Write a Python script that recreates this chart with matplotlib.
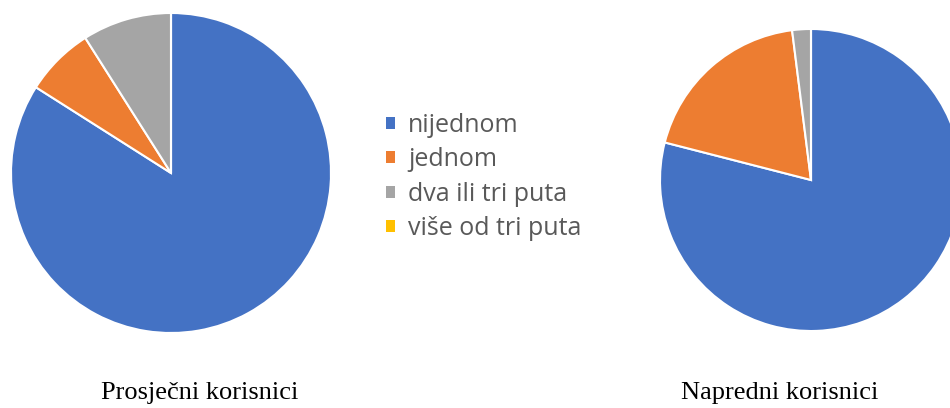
import matplotlib.pyplot as plt

# kategorije i udjeli (%)
kategorije = ['nijednom', 'jednom', 'dva ili tri puta', 'više od tri puta']
prosjecni = [84, 7, 9, 0]
napredni = [79, 19, 2, 0]
boje = ['#4472C4', '#ED7D31', '#A5A5A5', '#FFC000']

W, H = 950, 408
fig = plt.figure(figsize=(W / 100, H / 100), dpi=100)


def dodaj_pie(cx, cy, r, vrijednosti):
    ax = fig.add_axes([(cx - r) / W, (H - cy - r) / H, 2 * r / W, 2 * r / H])
    wedges, _ = ax.pie(vrijednosti, colors=boje, startangle=90, counterclock=False,
                       radius=1, wedgeprops=dict(edgecolor='white', linewidth=1.5))
    ax.set_xlim(-1, 1)
    ax.set_ylim(-1, 1)
    for w in wedges:
        w.set_clip_on(False)
    return wedges


wedges = dodaj_pie(171, 173, 160, prosjecni)
dodaj_pie(811, 180, 151, napredni)

leg = fig.legend(wedges, kategorije, loc='center left', bbox_to_anchor=(363 / W, 1 - 177 / H),
                 frameon=False, prop={'family': 'Open Sans', 'size': 18},
                 handlelength=0.36, handleheight=0.36, handletextpad=0.55, labelspacing=0.37)
for t in leg.get_texts():
    t.set_color('#595959')
for h in leg.legend_handles:
    h.set_edgecolor('none')
    h.set_linewidth(0)

fig.text(200 / W, 1 - 393 / H, 'Prosječni korisnici', ha='center', va='center',
         family='Liberation Serif', fontsize=19)
fig.text(780 / W, 1 - 393 / H, 'Napredni korisnici', ha='center', va='center',
         family='Liberation Serif', fontsize=19)

fig.savefig('out.png', dpi=100)
